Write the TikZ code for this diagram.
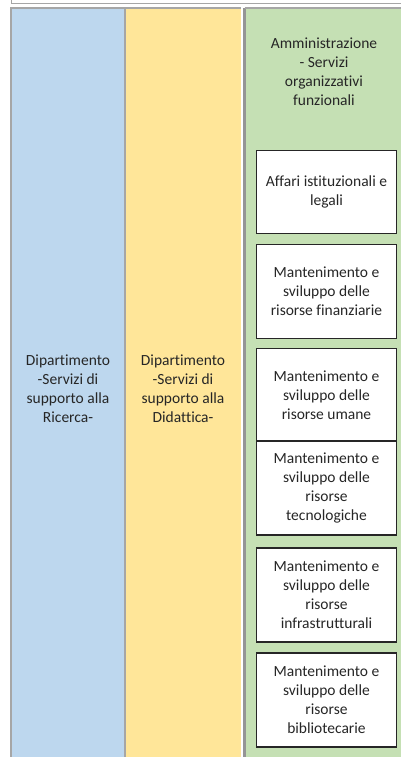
\documentclass[tikz,border=0pt]{standalone}
\usepackage{fontspec}
\setmainfont[Ligatures=NoCommon]{Carlito}
\definecolor{colblue}{HTML}{BDD7EE}
\definecolor{colyellow}{HTML}{FFE699}
\definecolor{colgreen}{HTML}{C5E0B4}
\definecolor{edgegray}{HTML}{A6A6A6}
\definecolor{txt}{HTML}{262626}
\begin{document}
\begin{tikzpicture}[x=1pt,y=-1pt,
  column/.style={draw=edgegray, line width=2pt},
  coltext/.style={align=center, font=\fontsize{15.5}{19}\selectfont, text=txt},
  unitbox/.style={draw=black!85, line width=1.3pt, fill=white, align=center,
    font=\fontsize{15.5}{19}\selectfont, text=txt, inner sep=0pt}]
\useasboundingbox (0,0) rectangle (401,757);
% top strip
\draw[edgegray, line width=1pt] (11,0) -- (11,3.5) -- (401,3.5);
% columns
\fill[colblue] (11,8) rectangle (125,760);
\fill[colyellow] (126,8) rectangle (241,760);
\fill[colgreen] (245,8) rectangle (405,760);
\draw[column] (11,760) -- (11,8) -- (125,8) -- (125,760);
\draw[edgegray, line width=1.5pt] (126,8) -- (241,8);
\draw[edgegray!90!black, line width=3pt] (244.5,8) -- (244.5,760);
\draw[edgegray, line width=1.5pt] (244.5,8) -- (405,8);
% column labels
\node[coltext] (ricerca) at (68,389) {Dipartimento\\-Servizi di\\supporto alla\\Ricerca-};
\node[coltext] (didattica) at (183,389) {Dipartimento\\-Servizi di\\supporto alla\\Didattica-};
\node[coltext] (amm) at (324,72) {Amministrazione\\- Servizi\\organizzativi\\funzionali};
% unit boxes
\node[unitbox, minimum width=140pt, minimum height=83pt] (b1) at (326.5,192) {Affari istituzionali e\\legali};
\node[unitbox, minimum width=140pt, minimum height=94pt] (b2) at (326.5,291.5) {Mantenimento e\\sviluppo delle\\risorse finanziarie};
\node[unitbox, minimum width=140pt, minimum height=93pt] (b3) at (326.5,395) {Mantenimento e\\sviluppo delle\\risorse umane};
\node[unitbox, minimum width=140pt, minimum height=94pt] (b4) at (326.5,488) {Mantenimento e\\sviluppo delle\\risorse\\tecnologiche};
\node[unitbox, minimum width=140pt, minimum height=94pt] (b5) at (326.5,595) {Mantenimento e\\sviluppo delle\\risorse\\infrastrutturali};
\node[unitbox, minimum width=140pt, minimum height=94pt] (b6) at (326.5,700) {Mantenimento e\\sviluppo delle\\risorse\\bibliotecarie};
\end{tikzpicture}
\end{document}
